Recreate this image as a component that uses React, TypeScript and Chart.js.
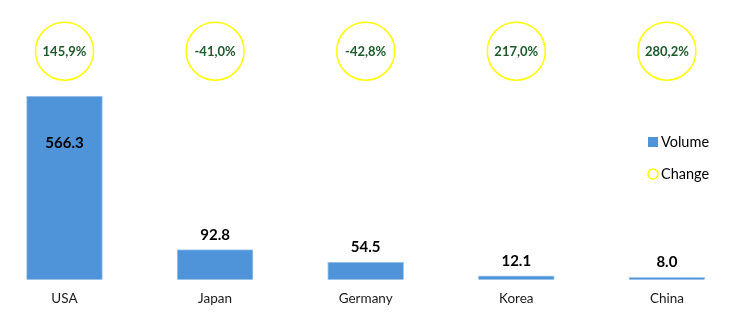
import React, { useEffect, useRef } from "react";
import { Chart, registerables } from "chart.js";

Chart.register(...registerables);

const countries = ["USA", "Japan", "Germany", "Korea", "China"];
const volumes = [566.3, 92.8, 54.5, 12.1, 8.0];
const changes = [145.9, -41.0, -42.8, 217.0, 280.2];

const BAR_COLOR = "#4f94d9";
const CIRCLE_COLOR = "#ffff00";
const CHANGE_TEXT = "#1f5a2c";
const FONT = "Lato, 'Open Sans', sans-serif";
const CIRCLE_LEVEL = 705;
const Y_MAX = 838;

const fmtChange = (c: number) => c.toFixed(1).replace(".", ",") + "%";

const labelsPlugin = {
  id: "customLabels",
  afterDatasetsDraw(chart: any) {
    const ctx = chart.ctx;
    ctx.save();
    const barMeta = chart.getDatasetMeta(0);
    ctx.font = `bold 15px ${FONT}`;
    ctx.fillStyle = "#000";
    ctx.textAlign = "center";
    ctx.textBaseline = "middle";
    barMeta.data.forEach((bar: any, i: number) => {
      const v = volumes[i];
      const inside = v / Y_MAX > 0.5;
      const y = inside ? bar.y + 47 : bar.y - 15;
      ctx.fillText(v.toFixed(1), bar.x, y);
    });
    const cMeta = chart.getDatasetMeta(1);
    ctx.font = `bold 13px ${FONT}`;
    ctx.fillStyle = CHANGE_TEXT;
    cMeta.data.forEach((pt: any, i: number) => {
      ctx.fillText(fmtChange(changes[i]), pt.x, pt.y + 1);
    });
    // legend
    ctx.textAlign = "left";
    ctx.font = `14.5px ${FONT}`;
    ctx.fillStyle = BAR_COLOR;
    ctx.fillRect(640, 129, 10, 10);
    ctx.fillStyle = "#000";
    ctx.fillText("Volume", 653, 134);
    ctx.beginPath();
    ctx.arc(645, 166, 5, 0, Math.PI * 2);
    ctx.strokeStyle = CIRCLE_COLOR;
    ctx.lineWidth = 1.5;
    ctx.stroke();
    ctx.fillText("Change", 653, 166);
    ctx.restore();
  },
};

export default function App() {
  const ref = useRef<HTMLCanvasElement>(null);
  useEffect(() => {
    if (!ref.current) return;
    const chart = new Chart(ref.current, {
      type: "bar",
      data: {
        datasets: [
          {
            type: "bar",
            label: "Volume",
            data: volumes.map((v, i) => ({ x: i, y: v })),
            backgroundColor: BAR_COLOR,
            borderColor: "#a9cbee",
            borderWidth: 1,
            barThickness: 76,
          } as any,
          {
            type: "line",
            label: "Change",
            data: changes.map((_, i) => ({ x: i, y: CIRCLE_LEVEL })),
            showLine: false,
            pointRadius: 29,
            pointHoverRadius: 29,
            pointBorderColor: CIRCLE_COLOR,
            pointBackgroundColor: "rgba(255,255,255,0)",
            pointBorderWidth: 1.5,
            clip: false,
          } as any,
        ],
      },
      options: {
        animation: false,
        responsive: true,
        maintainAspectRatio: false,
        layout: { padding: 0, autoPadding: false } as any,
        plugins: {
          legend: { display: false },
          tooltip: { enabled: false },
        },
        scales: {
          x: {
            type: "linear",
            bounds: "data",
            min: -0.375,
            max: 4.419,
            offset: false,
            afterBuildTicks: (scale: any) => {
              scale.ticks = countries.map((_, i) => ({ value: i }));
            },
            grid: { display: false, drawTicks: false, offset: false },
            border: { display: false },
            ticks: {
              autoSkip: false,
              maxRotation: 0,
              padding: 11,
              color: "#1a1a1a",
              font: { family: FONT, size: 13.5 },
              callback: (v: any) =>
                Number.isInteger(v) && countries[v] ? countries[v] : "",
            },
          },
          y: {
            display: false,
            min: 0,
            max: Y_MAX,
          },
        },
      },
      plugins: [labelsPlugin],
    });
    return () => chart.destroy();
  }, []);
  return (
    <div style={{ position: "relative", width: 722, height: 310 }}>
      <canvas ref={ref} />
    </div>
  );
}
